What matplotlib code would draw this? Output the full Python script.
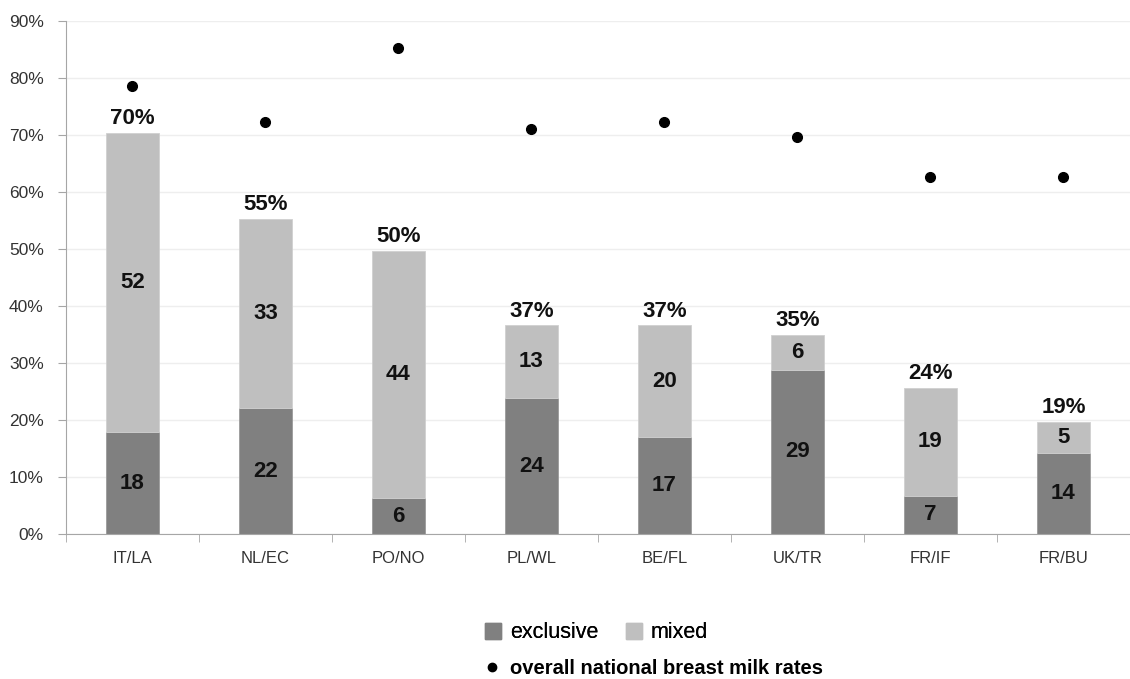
import numpy as np
import matplotlib.pyplot as plt
from matplotlib.patches import Patch
from matplotlib.lines import Line2D

plt.rcParams['font.family'] = ['Liberation Sans', 'DejaVu Sans']

regions = ['IT/LA', 'NL/EC', 'PO/NO', 'PL/WL', 'BE/FL', 'UK/TR', 'FR/IF', 'FR/BU']
# segment heights as drawn (percent)
exclusive = [17.9, 22.1, 6.3, 23.8, 17.0, 28.8, 6.7, 14.3]
mixed = [52.5, 33.2, 43.4, 12.8, 19.6, 6.2, 19.0, 5.4]
# printed labels
excl_lbl = [18, 22, 6, 24, 17, 29, 7, 14]
mixed_lbl = [52, 33, 44, 13, 20, 6, 19, 5]
total_lbl = [70, 55, 50, 37, 37, 35, 24, 19]
# overall national breast milk rates
national = [78.6, 72.3, 85.3, 71.1, 72.3, 69.6, 62.6, 62.6]

c_excl = '#808080'
c_mix = '#bfbfbf'

fig = plt.figure(figsize=(11.3, 6.79), dpi=100)
ax = fig.add_axes([0.0584, 0.2135, 0.9416, 0.7555])

x = np.arange(len(regions))
w = 0.4
ax.bar(x, exclusive, w, color=c_excl, edgecolor='#9a9a9a', linewidth=0.6, zorder=2)
ax.bar(x, mixed, w, bottom=exclusive, color=c_mix, edgecolor='#d0d0d0', linewidth=0.6, zorder=2)
ax.plot(x, national, 'o', color='black', markersize=7, zorder=3)

tops = np.array(exclusive) + np.array(mixed)
for i in range(len(regions)):
    ax.text(x[i], exclusive[i] / 2, str(excl_lbl[i]), ha='center', va='center',
            fontsize=16, fontweight='bold', color='#111111')
    ax.text(x[i], exclusive[i] + mixed[i] / 2, str(mixed_lbl[i]), ha='center', va='center',
            fontsize=16, fontweight='bold', color='#111111')
    ax.text(x[i], tops[i] + 0.6, f'{total_lbl[i]}%', ha='center', va='bottom',
            fontsize=16, fontweight='bold', color='#111111')

ax.set_xlim(-0.5, 7.5)
ax.set_ylim(0, 90)
ax.set_yticks(np.arange(0, 91, 10))
ax.set_yticklabels([f'{v}%' for v in range(0, 91, 10)], fontsize=12.5, color='#333333')
ax.set_xticks(x)
ax.set_xticklabels(regions, fontsize=12, color='#333333')
ax.set_xticks(np.arange(-0.5, 8, 1), minor=True)
ax.tick_params(axis='x', which='major', length=0, pad=12)
ax.tick_params(axis='x', which='minor', length=6, color='#a6a6a6', direction='out')
ax.tick_params(axis='y', length=6, color='#a6a6a6', direction='out', pad=10)
ax.yaxis.grid(True, color='#eeeeee', linewidth=1, zorder=0)
ax.set_axisbelow(True)
for s in ['top', 'right']:
    ax.spines[s].set_visible(False)
for s in ['left', 'bottom']:
    ax.spines[s].set_color('#a6a6a6')

h1 = [Patch(color=c_excl, label='exclusive'), Patch(color=c_mix, label='mixed')]
leg1 = fig.legend(handles=h1, loc='center left', bbox_to_anchor=(485 / 1130, 1 - 633 / 679),
                  ncol=2, frameon=False, fontsize=15.5, handlelength=0.75, handleheight=0.75,
                  handletextpad=0.4, columnspacing=1.3, borderpad=0, borderaxespad=0)
h2 = [Line2D([], [], marker='o', color='black', linestyle='none', markersize=6,
             label='overall national breast milk rates')]
leg2 = fig.legend(handles=h2, loc='center left', bbox_to_anchor=(482 / 1130, 1 - 669 / 679),
                  frameon=False, handlelength=1.0, handletextpad=0.4, borderpad=0, borderaxespad=0,
                  prop={'size': 14.5, 'weight': 'bold'})
fig.add_artist(leg1)

fig.savefig('out.png', dpi=100)
